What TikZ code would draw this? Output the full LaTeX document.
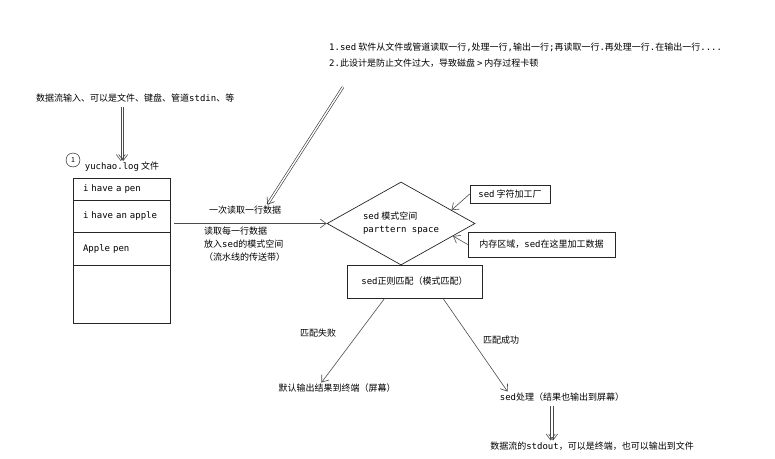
\documentclass[tikz,border=0pt]{standalone}
\usepackage{fontspec}
\setmainfont{Noto Sans CJK SC}
\setmonofont{DejaVu Sans Mono}
\usepackage{tikz}
\usetikzlibrary{shapes,arrows.meta,positioning,calc}

\begin{document}
\begin{tikzpicture}[
  x=1pt, y=-1pt,
  every node/.style={font=\fontsize{9}{13}\selectfont, inner sep=1pt},
  box/.style={draw=black!85, rectangle, line width=0.7pt},
  cell/.style={box, minimum width=97pt, text width=77pt, inner xsep=10pt, align=left},
  ptr/.style={-{Straight Barb[length=6pt,width=9pt]}, draw=black!70, line width=0.6pt},
  bigptr/.style={ptr, draw=black!80, double, double distance=1.4pt, line width=0.6pt}
]
\useasboundingbox[fill=white] (0,0) rectangle (775,458);

% Notes at the top
\node[anchor=north west, align=left, font=\fontsize{9}{16}\selectfont] (note) at (328,42)
  {\texttt{1.sed} 软件从文件或管道读取一行\texttt{,}处理一行\texttt{,}输出一行\texttt{;}再读取一行\texttt{.}再处理一行\texttt{.}在输出一行\texttt{....}\\
   \texttt{2.}此设计是防止文件过大，导致磁盘 \texttt{>} 内存过程卡顿};
\node[anchor=west] (src) at (35,98) {数据流输入、可以是文件、键盘、管道\texttt{stdin}、等};

% Input file (one line per cell)
\node[draw, circle, minimum size=14pt, inner sep=0pt, font=\fontsize{7}{8}\selectfont] (num) at (73,160) {1};
\node (title) at (122,167) {\texttt{yuchao.log} 文件};
\node[cell, minimum height=22pt] (r1) at (121.5,189) {\texttt{i have a pen}};
\node[cell, minimum height=32pt] (r2) at (121.5,216) {\texttt{i have an apple}};
\node[cell, minimum height=33pt] (r3) at (121.5,248.5) {\texttt{Apple pen}};
\node[cell, minimum height=58pt] (r4) at (121.5,294) {};

% Pattern space
\node[diamond, draw=black!85, line width=0.7pt, aspect=1.78, minimum width=148pt, minimum height=83pt, align=left] (space) at (401,223.5)
  {\texttt{sed} 模式空间\\\texttt{parttern space}};
\node[box, minimum width=80pt, minimum height=18pt] (factory) at (510,194) {\texttt{sed} 字符加工厂};
\node[box, minimum width=147pt, minimum height=25pt] (memory) at (541.5,244.5) {内存区域，\texttt{sed}在这里加工数据};
\node[box, minimum width=135pt, minimum height=33pt] (match) at (414.5,281.5) {\texttt{sed}正则匹配（模式匹配）};

% Labels on the conveyor
\node (read) at (245,210) {一次读取一行数据};
\node[anchor=north west, align=left] (conv) at (203,226) {读取每一行数据\\放入\texttt{sed}的模式空间\\（流水线的传送带）};

% Results
\node (failtag) at (318,333) {匹配失败};
\node (oktag) at (501,340) {匹配成功};
\node (fail) at (337,388) {默认输出结果到终端（屏幕）};
\node (ok) at (562,397) {\texttt{sed}处理（结果也输出到屏幕）};
\node (out) at (592,446) {数据流的\texttt{stdout}，可以是终端，也可以输出到文件};

% Connectors
\coordinate (tail) at (343,87);
\coordinate (srcout) at ($(src.south -| title.north)+(0,4)$);
\coordinate (okout) at ($(ok.south west)!0.42!(ok.south east)+(0,4)$);
\coordinate (okin) at (okout |- out.north);
\foreach \dx in {-1.2,1.2} {
  \draw[ptr] ([xshift=\dx pt]srcout) -- ([xshift=\dx pt]title.north);
  \draw[ptr] ([xshift=\dx pt]okout) -- ([xshift=\dx pt]okin);
}
\draw[bigptr] (tail) -- ($(read.north)!0.6!(read.north east)$);
\draw[ptr, shorten <=4pt] (r2.east |- space.west) -- (space.west);
\draw[ptr] (factory.west) -- ($(space.north)!0.68!(space.east)$);
\draw[ptr] (memory.west) -- ($(space.east)!0.3!(space.south)$);
\draw[ptr] ($(match.south west)!0.28!(match.south east)$) -- ($(fail.north west)!0.37!(fail.north east)$);
\draw[ptr] ($(match.south west)!0.71!(match.south east)$) -- ($(ok.north west)!0.07!(ok.north east)$);
\end{tikzpicture}
\end{document}
